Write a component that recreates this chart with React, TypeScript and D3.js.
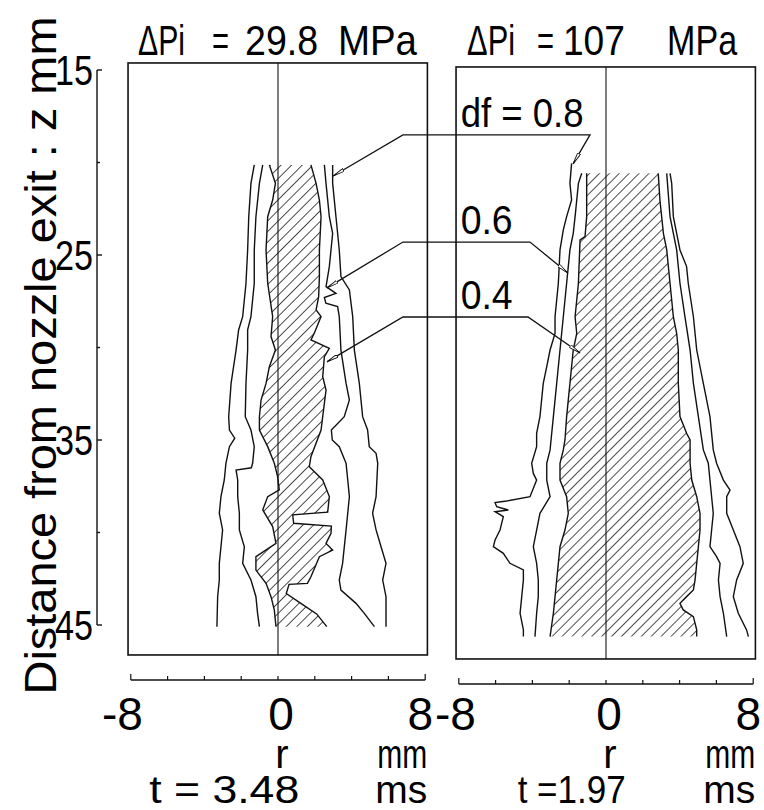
import React from 'react';
import * as d3 from 'd3';

type Pt = [number, number]; // [z (mm), r (mm)]

// ---------- text / ticks ----------
const panelTitleParts = [['ΔPi', '=', '29.8', 'MPa'], ['ΔPi', '=', '107', 'MPa']];
const timeValues = ['t = 3.48', 't =1.97'];
const yMajorTicks = [15, 25, 35, 45];
const yMinorTicks = [20, 30, 40];
const xTicks = [-8, -6, -4, -2, 0, 2, 4, 6, 8];
const xTickLabels = [-8, 0, 8];
const dfLabels = ['df = 0.8', '0.6', '0.4'];

// ---------- left panel (ΔPi = 29.8 MPa) contours ----------
const left08L: Pt[] = [[20.13,-1.29],[21.13,-1.47],[22.93,-1.59],[24.73,-1.65],[26.53,-1.74],[28.33,-1.92],[29.05,-2.14],[30.14,-2.28],[31.94,-2.55],[33.74,-2.68],[34.46,-2.64],[34.9,-2.35],[35.36,-2.64],[36.26,-2.83],[37.16,-2.92],[38.06,-3.10],[38.96,-3.19],[39.86,-3.01],[40.77,-3.10],[41.67,-3.19],[42.57,-3.19],[43.47,-3.28],[45.09,-3.32]];
const left06L: Pt[] = [[20.13,-0.83],[21.13,-1.01],[22.93,-1.20],[24.73,-1.29],[26.53,-1.29],[28.33,-1.47],[29.05,-1.65],[30.14,-1.65],[31.94,-1.74],[33.74,-1.78],[34.46,-1.47],[35.36,-1.29],[36.26,-1.38],[36.5,-1.45],[36.62,-2.28],[37.16,-2.19],[38.06,-2.19],[38.96,-2.10],[39.86,-2.10],[40.77,-1.83],[41.67,-1.92],[42.57,-1.47],[43.47,-1.20],[44.37,-1.11],[45.09,-1.01]];
const left04L: Pt[] = [[20.13,-0.47],[21.13,-0.14],[22.03,-0.29],[22.93,-0.56],[24.73,-0.65],[26.53,-0.56],[28.33,-0.29],[29.41,-0.38],[30.14,-0.14],[31.04,-0.47],[31.94,-0.65],[32.84,-0.92],[33.74,-1.01],[34.46,-1.01],[35.36,-0.56],[36.26,-0.20],[36.98,-0.02],[37.70,0.07],[38.06,-0.56],[38.78,-0.83],[39.68,-0.29],[40.59,-0.11],[41.31,-1.20],[42.03,-1.20],[42.75,-0.65],[43.47,-0.38],[44.19,-0.20],[45.09,-0.11]];
const left04R: Pt[] = [[20.13,1.79],[21.13,2.07],[22.03,2.25],[22.93,2.34],[24.73,2.25],[26.17,2.25],[27.25,2.21],[27.97,2.07],[28.33,2.34],[29.23,1.97],[29.59,1.79],[30.05,2.79],[30.50,2.52],[31.58,2.43],[32.30,2.61],[33.74,2.43],[34.46,2.34],[35.90,1.79],[36.44,1.70],[37.16,2.43],[38.06,2.79],[38.9,2.70],[39.05,0.80],[39.5,0.85],[39.65,2.90],[40.04,2.88],[40.59,2.61],[40.95,2.97],[41.31,2.25],[42.39,1.79],[42.75,1.60],[42.80,0.60],[43.3,0.45],[43.8,1.20],[44.4,2.10],[45.09,2.65]];
const left06R: Pt[] = [[20.13,2.52],[21.13,2.61],[22.93,2.79],[23.83,2.97],[24.73,2.88],[25.63,2.79],[26.71,2.61],[27.07,3.15],[27.3,2.52],[27.6,2.60],[27.79,3.24],[28.33,3.33],[30.14,3.42],[31.94,3.70],[32.84,3.88],[33.74,3.60],[34.46,2.90],[35.0,2.95],[35.36,3.33],[36.26,3.70],[37.16,3.79],[38.06,3.88],[39.86,3.70],[41.67,3.51],[42.57,3.33],[43.11,3.42],[43.83,4.24],[44.37,4.69],[45.09,5.24]];
const left08R: Pt[] = [[20.13,2.97],[21.13,2.97],[22.93,3.15],[24.73,3.33],[26.17,3.42],[26.89,3.88],[28.33,4.06],[30.14,4.15],[31.94,4.42],[33.74,4.60],[34.46,4.87],[35.36,4.96],[35.72,5.33],[36.26,5.42],[38.06,5.33],[38.96,5.14],[39.86,5.33],[40.77,5.60],[41.67,5.87],[42.57,5.69],[43.47,5.87],[45.09,5.87]];

// ---------- right panel (ΔPi = 107 MPa) contours ----------
const right08L: Pt[] = [[19.83,-1.87],[20.91,-1.96],[21.81,-1.87],[22.71,-2.14],[23.43,-2.32],[24.51,-2.50],[26.31,-2.59],[28.12,-2.77],[29.02,-2.77],[29.92,-3.04],[30.82,-3.22],[31.72,-3.41],[32.62,-3.50],[33.52,-3.59],[34.42,-3.77],[35.14,-3.77],[36.04,-4.04],[36.59,-3.95],[36.95,-3.77],[37.85,-4.13],[38.08,-5.40],[38.17,-6.03],[38.39,-5.94],[38.57,-5.31],[38.66,-6.03],[38.93,-5.58],[39.65,-5.76],[40.19,-6.03],[40.55,-6.12],[40.91,-5.58],[41.45,-5.22],[41.81,-4.49],[42.35,-4.49],[43.25,-4.58],[44.15,-4.67],[45.05,-4.49],[45.41,-4.49]];
const right06L: Pt[] = [[20.37,-1.32],[20.91,-1.50],[22.71,-1.68],[23.61,-1.78],[24.51,-1.96],[25.41,-2.05],[26.31,-2.14],[28.12,-2.32],[29.92,-2.50],[31.72,-2.68],[33.52,-2.86],[35.32,-3.04],[36.04,-3.22],[36.95,-3.22],[37.85,-3.04],[38.75,-3.59],[39.65,-3.77],[40.55,-3.95],[41.45,-3.77],[42.35,-3.68],[43.25,-3.68],[44.15,-3.77],[45.41,-3.86]];
const right04L: Pt[] = [[20.37,-1.05],[22.71,-1.05],[23.79,-1.14],[23.97,-1.41],[26.31,-1.50],[28.12,-1.68],[29.02,-1.59],[29.92,-1.78],[31.72,-1.96],[33.52,-2.14],[34.78,-2.23],[35.32,-2.32],[36.04,-2.50],[36.95,-2.50],[37.85,-2.14],[38.75,-2.05],[39.65,-2.23],[40.55,-2.50],[41.45,-2.59],[42.35,-2.68],[43.25,-2.77],[44.15,-2.86],[45.41,-3.04]];
const right04R: Pt[] = [[20.37,2.84],[21.81,2.93],[23.61,3.12],[24.51,3.30],[26.31,3.48],[28.12,3.66],[29.02,3.84],[29.92,3.93],[31.72,3.93],[33.52,4.02],[34.42,4.38],[34.78,4.57],[35.32,4.57],[36.04,4.57],[36.95,4.66],[37.85,4.93],[38.75,5.11],[39.65,5.11],[40.55,5.02],[41.45,4.93],[42.35,4.84],[42.89,4.75],[43.25,4.38],[43.61,4.02],[43.97,4.20],[44.33,4.75],[45.05,4.93],[45.41,4.93]];
const right06R: Pt[] = [[20.37,3.30],[22.71,3.48],[24.51,3.84],[26.31,4.02],[28.12,4.29],[29.92,4.57],[31.72,4.75],[33.52,5.02],[35.32,5.29],[36.04,5.56],[36.95,5.65],[37.85,5.74],[38.75,5.83],[39.65,5.74],[40.55,5.65],[41.09,6.01],[41.45,6.20],[42.35,6.11],[43.25,6.20],[44.15,6.38],[45.41,6.56]];
const right08R: Pt[] = [[20.37,3.48],[20.91,3.57],[22.71,3.66],[23.61,3.84],[24.51,4.02],[25.41,4.38],[26.31,4.47],[28.12,4.75],[29.92,4.93],[31.72,5.29],[33.52,5.65],[35.32,5.83],[36.04,6.01],[36.95,6.38],[37.49,6.74],[37.85,6.56],[38.75,6.56],[39.65,6.92],[40.55,7.28],[41.45,7.46],[42.35,7.10],[43.25,6.92],[44.15,7.19],[45.05,7.64],[45.41,7.74]];

// ---------- df leader lines (left target -> elbows -> right target) ----------
const leaderLeftTargets: Pt[] = [[20.73, 2.99], [26.78, 2.66], [30.78, 2.66]];
const leaderElbowZ = [18.51, 24.3, 28.35];
const leaderLeftElbowR = [6.79, 6.79, 6.79];
const leaderRightElbowR = [-0.87, -4.13, -4.24];
const leaderRightTargets: Pt[] = [[19.86, -1.79], [25.76, -2.07], [30.08, -1.41]];

// ---------- layout ----------
const W = 764;
const H = 810;
const PX_PER_MM = 18.4;
const panelCenters = [278, 606];
const panelDy = [0, 4];
const Y_TOP = 70;
const Y_BOT = 625;
const FONT = '"Liberation Sans", Arial, Helvetica, sans-serif';
const titlePartR = [[-7.61, -3.59, -1.79, 3.26], [-7.55, -3.75, -2.34, 3.32]];
const titlePartLen = [[47, 17, 73, 79], [48, 17, 62, 70]];
const timeStartR = [-7.0, -4.8];
const timeLen = [150, 108];
const hatchSpacing = [7.5, 7];

const panelData = [
  { lines: [left08L, left06L, left08R, left06R], hL: left04L, hR: left04R },
  { lines: [right08L, right06L, right08R, right06R], hL: right04L, hR: right04R },
];

export default function App() {
  const yAxis = d3.scaleLinear().domain([15, 45]).range([Y_TOP, Y_BOT]);
  const scales = panelCenters.map((c, i) => ({
    x: d3.scaleLinear().domain([-8, 8]).range([c - 8 * PX_PER_MM, c + 8 * PX_PER_MM]),
    y: d3.scaleLinear().domain([15, 45]).range([Y_TOP + panelDy[i], Y_BOT + panelDy[i]]),
  }));
  const stroke = '#111';

  return (
    <svg width={W} height={H} viewBox={`0 0 ${W} ${H}`}
      style={{ position: 'absolute', left: 0, top: 0, background: '#fff' }}
      fontFamily={FONT}>
      <defs>
        {hatchSpacing.map((s, i) => (
          <pattern key={i} id={`hatch${i}`} patternUnits="userSpaceOnUse" width={s} height={s}
            patternTransform="rotate(45)">
            <line x1={0} y1={0} x2={0} y2={s} stroke={stroke} strokeWidth={1.5} />
          </pattern>
        ))}
        <marker id="arrow" viewBox="0 0 12 4" refX={12} refY={2} markerWidth={12} markerHeight={4}
          markerUnits="userSpaceOnUse" orient="auto-start-reverse">
          <path d="M0,0.4 L12,2 L0,3.6 Z" fill="#fff" stroke={stroke} strokeWidth={0.9} />
        </marker>
      </defs>
      <rect x={0} y={0} width={W} height={H} fill="#fff" />

      {/* y axis */}
      <g>
        <line x1={97} x2={97} y1={yAxis(15)} y2={yAxis(45)} stroke={stroke} strokeWidth={1.4} />
        {yMajorTicks.map(t => (
          <g key={t}>
            <line x1={97} x2={102} y1={yAxis(t)} y2={yAxis(t)} stroke={stroke} strokeWidth={1.4} />
            <text x={93} y={yAxis(t) + 15} textAnchor="end" fontSize={42}
              textLength={38} lengthAdjust="spacingAndGlyphs">{t}</text>
          </g>
        ))}
        {yMinorTicks.map(t => (
          <line key={t} x1={97} x2={100} y1={yAxis(t)} y2={yAxis(t)} stroke={stroke} strokeWidth={1.4} />
        ))}
        <text transform={`translate(56, ${(yAxis(15) + yAxis(45)) / 2 + 8}) rotate(-90)`}
          textAnchor="middle" fontSize={44} textLength={678} lengthAdjust="spacingAndGlyphs">
          Distance from nozzle exit : z mm
        </text>
      </g>

      {scales.map(({ x, y }, i) => {
        const pd = panelData[i];
        const line = d3.line<Pt>().x(d => x(d[1])).y(d => y(d[0]));
        const hatchPoly = [...pd.hL, ...pd.hR.slice().reverse()];
        const bx0 = x(-8.15), bx1 = x(8.12), by0 = y(14.62), by1 = y(46.62);
        const axisY = 680 + panelDy[i];
        return (
          <g key={i}>
            {/* frame */}
            <rect x={bx0} y={by0} width={bx1 - bx0} height={by1 - by0} fill="none"
              stroke={stroke} strokeWidth={1.6} />
            <line x1={x(0)} x2={x(0)} y1={by0} y2={by1} stroke={stroke} strokeWidth={1.1} />
            {/* hatched df=0.4 core */}
            <path d={line(hatchPoly) + 'Z'} fill={`url(#hatch${i})`} stroke="none" />
            <path d={line(pd.hL) || ''} fill="none" stroke={stroke} strokeWidth={1.4} />
            <path d={line(pd.hR) || ''} fill="none" stroke={stroke} strokeWidth={1.4} />
            {pd.lines.map((c, j) => (
              <path key={j} d={line(c) || ''} fill="none" stroke={stroke} strokeWidth={1.4} />
            ))}
            {/* title */}
            {panelTitleParts[i].map((p, k) => (
              <text key={k} x={x(titlePartR[i][k])} y={55} fontSize={42}
                textLength={titlePartLen[i][k]} lengthAdjust="spacingAndGlyphs">{p}</text>
            ))}
            {/* bottom axis */}
            <line x1={x(-8)} x2={x(8)} y1={axisY} y2={axisY} stroke={stroke} strokeWidth={1.4} />
            {xTicks.map(t => (
              <line key={t} x1={x(t)} x2={x(t)} y1={axisY} y2={axisY - (Math.abs(t) === 8 ? 6 : 4)}
                stroke={stroke} strokeWidth={1.2} />
            ))}
            {xTickLabels.map(t => (
              <text key={t}
                x={t < 0 ? x(t) + (i === 0 ? 12 : 17) : x(t) + (t === 0 ? 3 : -5)}
                y={730} fontSize={46}
                textAnchor={t < 0 ? 'end' : 'middle'}>{t < 0 ? `-${-t}` : t}</text>
            ))}
            <text x={x(0) + 4} y={768} fontSize={40} textAnchor="middle">r</text>
            <text x={x(8) + 2} y={768} fontSize={40} textAnchor="end" textLength={50}
              lengthAdjust="spacingAndGlyphs">mm</text>
            <text x={x(timeStartR[i])} y={803} fontSize={38}
              textLength={timeLen[i]} lengthAdjust="spacingAndGlyphs">{timeValues[i]}</text>
            <text x={x(8) + 2} y={803} fontSize={38} textAnchor="end" textLength={52}
              lengthAdjust="spacingAndGlyphs">ms</text>
          </g>
        );
      })}

      {/* df leaders */}
      {dfLabels.map((lab, k) => {
        const L = scales[0], R = scales[1];
        const ey = L.y(leaderElbowZ[k]);
        const pts: [number, number][] = [
          [L.x(leaderLeftTargets[k][1]), L.y(leaderLeftTargets[k][0])],
          [L.x(leaderLeftElbowR[k]), ey],
          [R.x(leaderRightElbowR[k]), ey],
          [R.x(leaderRightTargets[k][1]), R.y(leaderRightTargets[k][0])],
        ];
        const d = d3.line()(pts) || '';
        return (
          <g key={lab}>
            <path d={d} fill="none" stroke={stroke} strokeWidth={1.3}
              markerStart="url(#arrow)" markerEnd="url(#arrow)" />
            <text x={R.x(-7.9)} y={ey - 8} fontSize={40}
              textLength={k === 0 ? 123 : 52} lengthAdjust="spacingAndGlyphs">{lab}</text>
          </g>
        );
      })}
    </svg>
  );
}
